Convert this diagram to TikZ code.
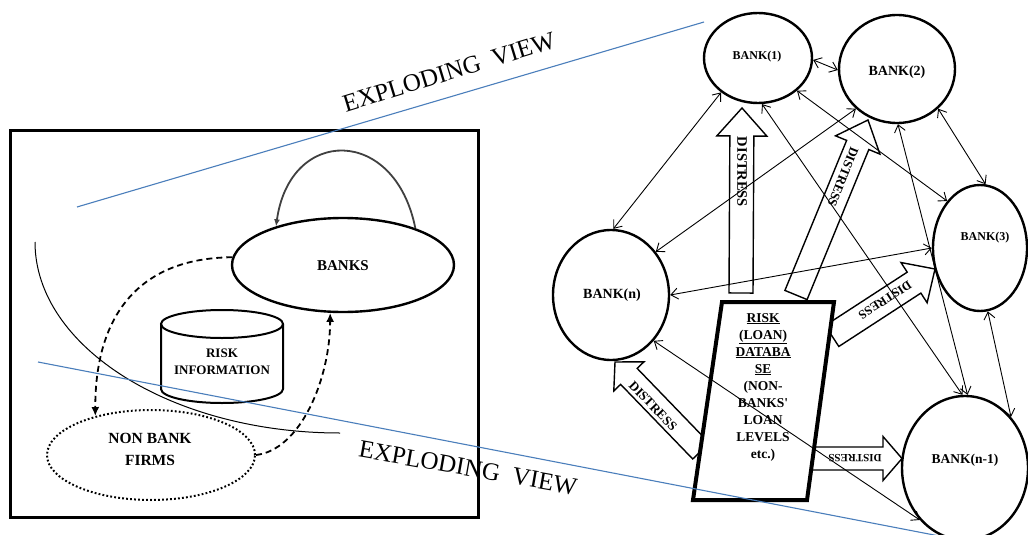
\documentclass[tikz,border=0pt]{standalone}
\usepackage{fontspec}
\setmainfont{Liberation Serif}
\usetikzlibrary{arrows.meta,calc,shapes.geometric}
\newcommand\myfs[2]{\fontsize{#1}{#2}\selectfont}
\definecolor{expblue}{HTML}{4A7EBB}
% tail, tip, shaft half-width, head half-width, head length
\newcommand\blockarrow[5]{%
  \coordinate (hbase) at ($(#2)!#5!(#1)$);
  \draw[blockarr] ($(#1)!#3!90:(#2)$) -- ($(hbase)!#3!90:(#2)$) -- ($(hbase)!#4!90:(#2)$) -- (#2)
    -- ($(hbase)!#4!-90:(#2)$) -- ($(hbase)!#3!-90:(#2)$) -- ($(#1)!#3!-90:(#2)$) -- cycle;}
\begin{document}
\begin{tikzpicture}[x=1pt,y=-1pt,
  bell/.style={ellipse, draw, line width=2.4pt, inner sep=0pt},
  conn/.style={{Straight Barb[length=7pt,width=11pt]}-{Straight Barb[length=7pt,width=11pt]}, line width=0.9pt},
  blockarr/.style={draw, line width=1.4pt, fill=white, line join=miter},
  dtxt/.style={font=\bfseries\myfs{#1}{#1}, inner sep=0pt},
  dashconn/.style={line width=1.8pt, dash pattern=on 6pt off 4pt, -{Latex[length=9pt,width=8pt]}},
  blueline/.style={expblue, line width=1.1pt},
  evtxt/.style={font=\myfs{25}{25}, inner sep=0pt}]
\clip (0,0) rectangle (1028,535);
\fill[white] (0,0) rectangle (1028,535);

% ---------- left panel ----------
\draw[line width=3pt] (10,130) rectangle (478,517);
\node[bell, minimum width=222pt, minimum height=94pt] (banks) at (343,265) {};
\node[dtxt=15] (banksT) at (343,266) {BANKS};
\node[ellipse, draw, line width=2pt, dash pattern=on 1.8pt off 2.2pt, minimum width=208pt, minimum height=90pt, inner sep=0pt] (nonbank) at (151,455) {};
\node[dtxt=15, font=\bfseries\myfs{15.5}{22}, align=center] (nonbankT) at (150,449) {NON BANK\\FIRMS};
% cylinder
\draw[line width=2pt, fill=white] (161,324) -- (161,389) arc[start angle=180, end angle=360, x radius=61pt, y radius=14pt] -- (283,324);
\draw[line width=2pt] (222,324) ellipse [x radius=61pt, y radius=14pt];
\node[dtxt=13, font=\bfseries\myfs{13}{17}, align=center] (riskinfo) at (222,362) {RISK\\INFORMATION};
% self loop and dashed flows
\draw[line width=1.8pt, draw=black!75, -{Latex[length=7pt,width=6pt]}] (banks.27) .. controls (395,126) and (290,126) .. (banks.150);
\draw[dashconn] (banks.176) .. controls (135,258) and (95,320) .. (nonbank.145);
\draw[dashconn] (nonbank.0) .. controls (300,450) and (330,380) .. (banks.-105);
% thin arc
\coordinate (arcA) at (35,242);
\coordinate (arcB) at (340,433);
\draw[line width=1pt] (arcA) .. controls (35,347) and (172,433) .. (arcB);

% ---------- right panel ----------
\coordinate (aT) at (741,293); \coordinate (aP) at (742,108);
\coordinate (bT) at (796,295); \coordinate (bP) at (868,120);
\coordinate (cT) at (832,336); \coordinate (cP) at (935,269);
\coordinate (dT) at (701,451); \coordinate (dP) at (615,362);
\coordinate (eT) at (810,458.5); \coordinate (eP) at (902,458.5);
\blockarrow{aT}{aP}{12pt}{25pt}{28pt}
\blockarrow{bT}{bP}{12pt}{24pt}{27pt}
\blockarrow{cT}{cP}{12.5pt}{24pt}{25pt}
\blockarrow{dT}{dP}{11.5pt}{21pt}{20pt}
\blockarrow{eT}{eP}{11.5pt}{22pt}{19pt}
\node[dtxt=14.5, rotate=-90] (dA) at (742,172) {DISTRESS};
\node[dtxt=13, rotate=-112] (dB) at (843,177) {DISTRESS};
\node[dtxt=12.5, rotate=-147] (dC) at (885,300) {DISTRESS};
\node[dtxt=13, rotate=-46] (dD) at (653,406) {DISTRESS};
\node[dtxt=11, rotate=180] (dE) at (855,458) {DISTRESS};

% database
\coordinate (dbTL) at (722,302); \coordinate (dbTR) at (834,302);
\coordinate (dbBR) at (807,500); \coordinate (dbBL) at (693,500);
\draw[line width=4pt, fill=white, line join=miter] (dbTL) -- (dbTR) -- (dbBR) -- (dbBL) -- cycle;
\node[dtxt=13.5, font=\bfseries\myfs{13.5}{17}, align=center] (dbtext) at (763,387)
  {\underline{RISK}\\\underline{(LOAN)}\\\underline{DATABA}\\\underline{SE}\\(NON-\\BANKS\textquotesingle\\LOAN\\LEVELS\\etc.)};

% banks
\node[bell, minimum width=108pt, minimum height=90pt] (b1) at (758,58) {};
\node[bell, minimum width=116pt, minimum height=108pt] (b2) at (897,69) {};
\node[bell, minimum width=94pt, minimum height=126pt] (b3) at (980,248) {};
\node[bell, minimum width=116pt, minimum height=130pt] (bn) at (611,295) {};
\node[bell, minimum width=126pt, minimum height=144pt] (bn1) at (965,468) {};
\node[dtxt=12] (t1) at (757,57) {BANK(1)};
\node[dtxt=14] (t2) at (897,72) {BANK(2)};
\node[dtxt=12] (t3) at (985,238) {BANK(3)};
\node[dtxt=14] (tn) at (612,295) {BANK(n)};
\node[dtxt=13.5] (tn1) at (965,460) {BANK(n-1)};

% connectors
\draw[conn] (b1.-2) -- (b2.181);
\draw[conn] (b1.-137) -- (bn.88);
\draw[conn] (b2.-136) -- (bn.44);
\draw[conn] (b1.-40) -- (b3.125);
\draw[conn] (b1.-85) -- (bn1.92);
\draw[conn] (b2.-89) -- (bn1.88);
\draw[conn] (b2.-44) -- (b3.85);
\draw[conn] (bn.0) -- (b3.180);
\draw[conn] (b3.-83) -- (bn1.48);
\draw[conn] (bn.-47) -- (bn1.-131);

% exploding view lines and labels
\coordinate (u1) at (77,207); \coordinate (u2) at (704,22);
\coordinate (l1) at (38,362); \coordinate (l2) at (960,540);
\draw[blueline] (u1) -- (u2);
\draw[blueline] (l1) -- (l2);
\node[evtxt, rotate=17] (ev1) at (449,72) {EXPLODING\hspace{0.5em}VIEW};
\node[evtxt, rotate=-10] (ev2) at (468,468) {EXPLODING\hspace{0.5em}VIEW};
\end{tikzpicture}
\end{document}
